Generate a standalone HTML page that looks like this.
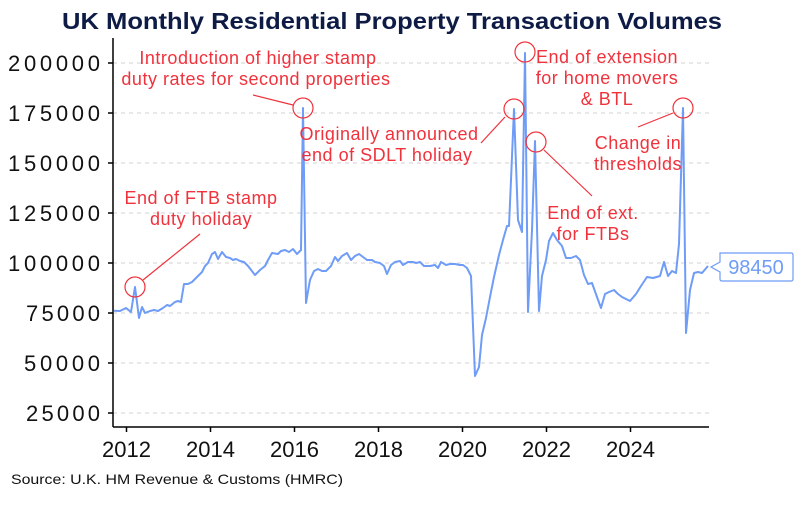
<!DOCTYPE html>
<html><head><meta charset="utf-8"><style>
body{margin:0;background:#fff}
svg text{font-family:"Liberation Sans",sans-serif}
</style></head><body>
<svg width="800" height="500" viewBox="0 0 800 500" xmlns="http://www.w3.org/2000/svg">
<text x="392" y="29" text-anchor="middle" font-size="23" font-weight="bold" fill="#0d1b45" textLength="660" lengthAdjust="spacingAndGlyphs">UK Monthly Residential Property Transaction Volumes</text>
<g stroke="#d0d0d0" stroke-dasharray="4,4" stroke-width="1">
<line x1="113" x2="709" y1="63" y2="63"/><line x1="113" x2="709" y1="113" y2="113"/><line x1="113" x2="709" y1="163" y2="163"/><line x1="113" x2="709" y1="213" y2="213"/><line x1="113" x2="709" y1="263" y2="263"/><line x1="113" x2="709" y1="313" y2="313"/><line x1="113" x2="709" y1="363" y2="363"/><line x1="113" x2="709" y1="413" y2="413"/>
</g>
<g stroke="#000" stroke-width="1.5">
<line x1="113" y1="38" x2="113" y2="427"/><line x1="113" y1="427" x2="709" y2="427"/>
<line x1="108" x2="113" y1="63" y2="63"/><line x1="108" x2="113" y1="113" y2="113"/><line x1="108" x2="113" y1="163" y2="163"/><line x1="108" x2="113" y1="213" y2="213"/><line x1="108" x2="113" y1="263" y2="263"/><line x1="108" x2="113" y1="313" y2="313"/><line x1="108" x2="113" y1="363" y2="363"/><line x1="108" x2="113" y1="413" y2="413"/>
<line x1="126.5" x2="126.5" y1="427" y2="432"/><line x1="210.5" x2="210.5" y1="427" y2="432"/><line x1="294.5" x2="294.5" y1="427" y2="432"/><line x1="378.5" x2="378.5" y1="427" y2="432"/><line x1="462.5" x2="462.5" y1="427" y2="432"/><line x1="546.5" x2="546.5" y1="427" y2="432"/><line x1="630.5" x2="630.5" y1="427" y2="432"/>
</g>
<g font-size="22" fill="#111" lengthAdjust="spacingAndGlyphs">
<text x="8" y="71" textLength="92">200000</text><text x="8" y="121" textLength="92">175000</text><text x="8" y="171" textLength="92">150000</text><text x="8" y="221" textLength="92">125000</text><text x="8" y="271" textLength="92">100000</text><text x="26" y="321" textLength="74">75000</text><text x="24" y="371" textLength="76">50000</text><text x="26" y="421" textLength="74">25000</text>
</g>
<g font-size="22" text-anchor="middle" fill="#111">
<text x="126.5" y="457">2012</text><text x="210.5" y="457">2014</text><text x="294.5" y="457">2016</text><text x="378.5" y="457">2018</text><text x="462.5" y="457">2020</text><text x="546.5" y="457">2022</text><text x="630.5" y="457">2024</text>
</g>
<text x="11" y="484" font-size="14" fill="#111" textLength="332" lengthAdjust="spacingAndGlyphs">Source: U.K. HM Revenue &amp; Customs (HMRC)</text>
<polyline fill="none" stroke="#6f9cf7" stroke-width="2" stroke-linejoin="round" points="114,310.7 120,311 126,308 131,312 135,287 139,318 142,307 145,313 150,311 154,310 158,311 163,308 167,305 170,306 175,302 178,301 181,302 184,284 188,284 192,282 197,277 202,272 205,266 208,263 212,254 215,252 218,259 222,252 226,257 230,258 233,260 236,259 240,261 244,262 248,266 255,275 260,270 265,266 268,260 272,253 278,254 281,251 285,250 289,252 293,249 297,254 301,250 303,108 306,303 310,280 314,271 318,269 322,271 326,271 331,266 335,257 338,261 342,256 347,253 351,260 355,256 359,254 363,257 367,260 372,260 375,262 380,263 384,266 387,274 391,265 395,262 400,261 403,265 408,262 413,262 416,263 420,262 424,266 430,266 435,265 438,268 441,262 446,265 450,264 455,264 460,265 463,265 467,268 471,276 475,376 479,367 482,335 486,318 490,297 494,277 499,255 503,240 507,226 509,226 511,180 514,109 518,220 522,232 525,53 528,312 532,230 535,141 539,311 542,276 546,260 549,241 553,233 557,240 562,246 566,258 571,258 576,256 580,260 584,275 588,284 592,283 597,297 601,308 605,294 609,292 614,290 618,294 622,297 630,301 636,294 641,286 647,277 653,278 660,276 664,262 668,276 672,271 676,273 679,244 683,108 686,333 690,290 694,273 698,272 702,273 708,266"/>
<g fill="none" stroke="#f0323c" stroke-width="1.2">
<circle cx="135" cy="287" r="10"/><circle cx="303" cy="108" r="10"/><circle cx="514" cy="109" r="10"/><circle cx="525" cy="52" r="10"/><circle cx="536" cy="142" r="10"/><circle cx="683" cy="108" r="10"/>
<line x1="143" y1="280" x2="200" y2="234"/><line x1="253" y1="95" x2="293" y2="105"/><line x1="481" y1="143" x2="505" y2="117"/><line x1="544" y1="150" x2="592" y2="196"/><line x1="638" y1="127" x2="673" y2="113"/>
</g>
<g font-size="18" fill="#f0323c" text-anchor="middle" letter-spacing="0.5">
<text x="258" y="64">Introduction of higher stamp</text><text x="256" y="85">duty rates for second properties</text>
<text x="201" y="204">End of FTB stamp</text><text x="201" y="225">duty holiday</text>
<text x="389" y="140">Originally announced</text><text x="387" y="161">end of SDLT holiday</text>
<text x="607" y="63">End of extension</text><text x="607" y="84">for home movers</text><text x="607" y="105">&amp; BTL</text>
<text x="593" y="219">End of ext.</text><text x="593" y="240">for FTBs</text>
<text x="638" y="149">Change in</text><text x="638" y="170">thresholds</text>
</g>
<path d="M720,253 H791 Q793,253 793,255 V279 Q793,281 791,281 H722 Q720,281 720,279 V272 L711,267 L720,262 Z" fill="#fff" stroke="#6f9cf7" stroke-width="1.2"/>
<text x="756" y="274" font-size="20" fill="#6f9cf7" text-anchor="middle">98450</text>
</svg>
</body></html>
